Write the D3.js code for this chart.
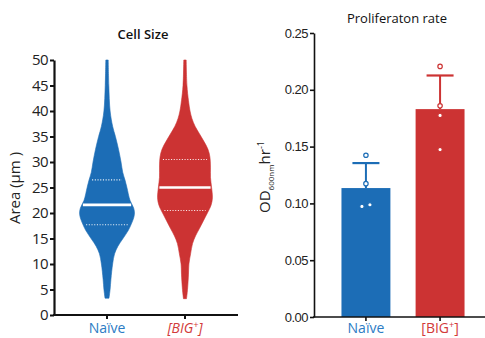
<!DOCTYPE html>
<html lang="en">
<head>
<meta charset="utf-8">
<title>Cell size and proliferation</title>
<style>
  body { margin: 0; background: #fff; }
  svg { font-family: "Open Sans", sans-serif; }
</style>
<script src="https://cdnjs.cloudflare.com/ajax/libs/d3/7.8.5/d3.min.js"></script>
</head>
<body>
<div id="chart"></div>
<script>
// ---- data ----
var groups = ["Naïve", "[BIG+]"];

// violin outlines: area level (µm²) and relative density
var naiveLevels  = [3.3, 5, 7, 10, 12, 13.5, 15, 16.5, 17.5, 19, 20, 21, 22.5, 25, 26.5, 28, 30, 32.5, 35, 37, 40, 45, 50];
var naiveDensity = [0.07, 0.11, 0.14, 0.2, 0.27, 0.39, 0.57, 0.75, 0.84, 0.95, 0.98, 0.95, 0.82, 0.71, 0.64, 0.56, 0.5, 0.41, 0.3, 0.2, 0.11, 0.064, 0.043];
var bigLevels  = [3.2, 5, 8, 10, 12, 14, 15.5, 17, 18.5, 20, 21.5, 23, 25, 27, 29, 31, 32.5, 34, 35.5, 37, 38.5, 40, 42, 45, 50];
var bigDensity = [0.054, 0.09, 0.125, 0.14, 0.2, 0.27, 0.375, 0.52, 0.66, 0.8, 0.93, 0.98, 0.95, 0.91, 0.91, 0.89, 0.82, 0.68, 0.52, 0.36, 0.25, 0.18, 0.125, 0.07, 0.043];
// lower quartile, median, upper quartile
var naiveQuartiles = [17.7, 21.6, 26.5];
var bigQuartiles   = [20.5, 25.0, 30.5];
var areaTicks = [0, 5, 10, 15, 20, 25, 30, 35, 40, 45, 50];

// proliferation rate
var rateMeans = [0.1135, 0.183];
var rateSD    = [0.022, 0.0296];
var naiveRates = [0.1424, 0.1174, 0.0973, 0.0988];
var bigRates   = [0.2206, 0.1859, 0.1774, 0.1474];
var rateTicks = [0, 0.05, 0.10, 0.15, 0.20, 0.25];

var colors = ["#1c6db6", "#cc3333"];
var labelColors = ["#2b7bc4", "#d23a3a"];

var svg = d3.select("#chart").append("svg")
  .attr("width", 485)
  .attr("height", 338);

// ---- left: violin plot ----
var yA = d3.scaleLinear().domain([0, 50]).range([315, 60]);
var xA = d3.scaleBand().domain(groups).range([54, 238]).padding(0.36);
var wA = d3.scaleLinear().domain([0, 1]).range([0, 28]);

var violins = [
  {g: groups[0], levels: naiveLevels, dens: naiveDensity, q: naiveQuartiles, c: colors[0]},
  {g: groups[1], levels: bigLevels, dens: bigDensity, q: bigQuartiles, c: colors[1]}
];

violins.forEach(function(v) {
  var cx = xA(v.g) + xA.bandwidth() / 2;
  var pts = v.levels.map(function(l, i) { return {l: l, d: v.dens[i]}; });
  var area = d3.area()
    .y(function(d) { return yA(d.l); })
    .x0(function(d) { return cx - wA(d.d); })
    .x1(function(d) { return cx + wA(d.d); })
    .curve(d3.curveCatmullRom);
  svg.append("path")
    .attr("d", area(pts))
    .attr("fill", v.c)
    .attr("stroke", v.c)
    .attr("stroke-width", 0.6);

  var half = d3.scaleLinear().domain(v.levels).range(v.dens);
  v.q.forEach(function(q, i) {
    var hw = wA(half(q));
    if (i == 1) {
      svg.append("line")
        .attr("x1", cx - hw + 1).attr("x2", cx + hw - 1)
        .attr("y1", yA(q)).attr("y2", yA(q))
        .attr("stroke", "#fff").attr("stroke-width", 2.6);
    } else {
      svg.append("line")
        .attr("x1", cx - hw + 3).attr("x2", cx + hw - 3)
        .attr("y1", yA(q)).attr("y2", yA(q))
        .attr("stroke", "#fff").attr("stroke-width", 1.1)
        .attr("stroke-dasharray", "1.1,1.6")
        .attr("opacity", 0.9);
    }
  });
});

var axL = svg.append("g")
  .attr("transform", "translate(54,0)")
  .call(d3.axisLeft(yA).tickValues(areaTicks).tickSize(4).tickPadding(2).tickSizeOuter(0));
axL.select(".domain").attr("stroke-width", 2.2).attr("stroke", "#111");
axL.selectAll(".tick line").attr("stroke-width", 2).attr("stroke", "#111");
axL.selectAll(".tick text")
  .attr("font-size", 15).attr("fill", "#222")
  .attr("font-family", "'Open Sans', sans-serif")
  .attr("letter-spacing", -0.6);

var axLb = svg.append("g")
  .attr("transform", "translate(0,315)")
  .call(d3.axisBottom(xA).tickSize(4).tickSizeOuter(0).tickFormat(""));
axLb.select(".domain").attr("stroke-width", 2.2).attr("stroke", "#111")
  .attr("d", "M53,0H238");
axLb.selectAll(".tick line").attr("stroke-width", 2).attr("stroke", "#111");

groups.forEach(function(g, i) {
  var t = svg.append("text")
    .attr("x", xA(g) + xA.bandwidth() / 2)
    .attr("y", 333)
    .attr("text-anchor", "middle")
    .attr("font-size", 14)
    .attr("fill", labelColors[i]);
  if (i == 0) {
    t.text(g);
  } else {
    t.attr("font-style", "italic");
    t.append("tspan").text("[BIG");
    t.append("tspan").attr("font-size", 9).attr("dy", -5).text("+");
    t.append("tspan").attr("dy", 5).text("]");
  }
});

svg.append("text")
  .attr("x", 143).attr("y", 39)
  .attr("text-anchor", "middle")
  .attr("font-size", 13).attr("font-weight", 600)
  .attr("fill", "#111")
  .text("Cell Size");

svg.append("text")
  .attr("transform", "translate(20,188) rotate(-90)")
  .attr("text-anchor", "middle")
  .attr("font-size", 15).attr("fill", "#222")
  .text("Area (μm )");

// ---- right: bar chart ----
var yR = d3.scaleLinear().domain([0, 0.25]).range([317, 33]);
var xR = d3.scaleBand().domain(groups).range([317, 489]).paddingInner(0.34).paddingOuter(0.33);

svg.selectAll(".bar")
  .data(groups)
  .enter().append("rect")
  .attr("class", "bar")
  .attr("x", function(d) { return xR(d); })
  .attr("width", xR.bandwidth())
  .attr("y", function(d, i) { return yR(rateMeans[i]); })
  .attr("height", function(d, i) { return yR(0) - yR(rateMeans[i]); })
  .attr("fill", function(d, i) { return colors[i]; });

groups.forEach(function(g, i) {
  var cx = xR(g) + xR.bandwidth() / 2;
  var top = rateMeans[i] + rateSD[i];
  svg.append("line")
    .attr("x1", cx).attr("x2", cx)
    .attr("y1", yR(rateMeans[i])).attr("y2", yR(top))
    .attr("stroke", colors[i]).attr("stroke-width", 2);
  svg.append("line")
    .attr("x1", cx - 13.5).attr("x2", cx + 13.5)
    .attr("y1", yR(top)).attr("y2", yR(top))
    .attr("stroke", colors[i]).attr("stroke-width", 2.2);

  var vals = i == 0 ? naiveRates : bigRates;
  // spread points that sit on top of each other
  vals.forEach(function(v, j) {
    var off = 0;
    vals.forEach(function(w, k) {
      if (k != j && Math.abs(v - w) < 0.005) off = j < k ? -4 : 4;
    });
    svg.append("circle")
      .attr("cx", cx + off)
      .attr("cy", yR(v))
      .attr("r", 2.2)
      .attr("fill", "#fff")
      .attr("stroke", colors[i])
      .attr("stroke-width", 1.2);
  });
});

var axR = svg.append("g")
  .attr("transform", "translate(314,0)")
  .call(d3.axisLeft(yR).tickValues(rateTicks).tickSize(4).tickPadding(2).tickSizeOuter(0)
    .tickFormat(d3.format(".2f")));
axR.select(".domain").attr("stroke-width", 1.6).attr("stroke", "#111");
axR.selectAll(".tick line").attr("stroke-width", 1.6).attr("stroke", "#111");
axR.selectAll(".tick text")
  .attr("font-size", 13).attr("fill", "#222")
  .attr("letter-spacing", -0.5);

var axRb = svg.append("g")
  .attr("transform", "translate(0,317)")
  .call(d3.axisBottom(xR).tickSize(4).tickSizeOuter(0).tickFormat(""));
axRb.select(".domain").attr("stroke-width", 1.6).attr("stroke", "#111")
  .attr("d", "M313,0H485");
axRb.selectAll(".tick line").attr("stroke-width", 1.6).attr("stroke", "#111");

groups.forEach(function(g, i) {
  var t = svg.append("text")
    .attr("x", xR(g) + xR.bandwidth() / 2)
    .attr("y", 333)
    .attr("text-anchor", "middle")
    .attr("font-size", 14)
    .attr("fill", labelColors[i]);
  if (i == 0) {
    t.text(g);
  } else {
    t.append("tspan").text("[BIG");
    t.append("tspan").attr("font-size", 9).attr("dy", -5).text("+");
    t.append("tspan").attr("dy", 5).text("]");
  }
});

svg.append("text")
  .attr("x", 397).attr("y", 23)
  .attr("text-anchor", "middle")
  .attr("font-size", 13)
  .attr("fill", "#111")
  .text("Proliferaton rate");

var yl = svg.append("text")
  .attr("transform", "translate(270,177) rotate(-90)")
  .attr("text-anchor", "middle")
  .attr("font-size", 15).attr("fill", "#222");
yl.append("tspan").text("OD");
yl.append("tspan").attr("font-size", 8).attr("dy", 4).text("600nm");
yl.append("tspan").attr("dy", -4).text("hr");
yl.append("tspan").attr("font-size", 9).attr("dy", -6).text("-1");
</script>
</body>
</html>
